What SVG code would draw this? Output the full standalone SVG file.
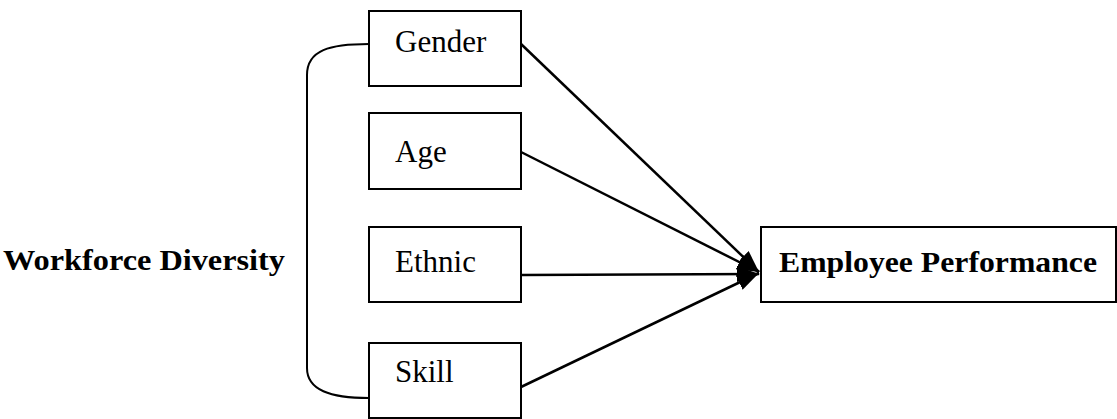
<svg xmlns="http://www.w3.org/2000/svg" width="1117" height="419" viewBox="0 0 1117 419">
<style>
.box{fill:#fff;stroke:#000;stroke-width:2}
.lbl{font-family:"Liberation Serif","Times New Roman",serif;font-size:31px;fill:#000}
.bold{font-family:"Liberation Serif","Times New Roman",serif;font-size:30px;font-weight:bold;fill:#000}
.conn{stroke:#000;stroke-width:2.5;fill:none}
</style>
<defs>
<marker id="ah" markerUnits="userSpaceOnUse" markerWidth="24" markerHeight="18" refX="22" refY="8" orient="auto">
<path d="M0,0 L22,8 L0,16 Z" fill="#000"/>
</marker>
</defs>
<rect width="1117" height="419" fill="#fff"/>
<g id="workforce-diversity">
<text class="bold" x="285" y="270" text-anchor="end" textLength="282" lengthAdjust="spacingAndGlyphs">Workforce Diversity</text>
<path class="conn" style="stroke-width:2" d="M369,44 C330,44 307,50 307,75 L307,368 C307,390 330,398 369,398"/>
</g>
<g id="gender">
<rect class="box" x="369" y="11" width="152" height="75"/>
<text class="lbl" x="395" y="52">Gender</text>
</g>
<g id="age">
<rect class="box" x="369" y="113" width="152" height="76"/>
<text class="lbl" x="395" y="162">Age</text>
</g>
<g id="ethnic">
<rect class="box" x="369" y="227" width="152" height="75"/>
<text class="lbl" x="395" y="272">Ethnic</text>
</g>
<g id="skill">
<rect class="box" x="369" y="343" width="152" height="75"/>
<text class="lbl" x="395" y="382">Skill</text>
</g>
<g id="employee-performance">
<rect class="box" x="761" y="227" width="355" height="75"/>
<text class="bold" x="779" y="272" textLength="318" lengthAdjust="spacingAndGlyphs">Employee Performance</text>
</g>
<g id="connectors">
<line class="conn" x1="521" y1="44" x2="759" y2="272" marker-end="url(#ah)"/>
<line class="conn" x1="521" y1="152" x2="759" y2="272" marker-end="url(#ah)"/>
<line class="conn" x1="521" y1="275" x2="759" y2="274" marker-end="url(#ah)"/>
<line class="conn" x1="521" y1="387" x2="759" y2="273" marker-end="url(#ah)"/>
</g>
</svg>
